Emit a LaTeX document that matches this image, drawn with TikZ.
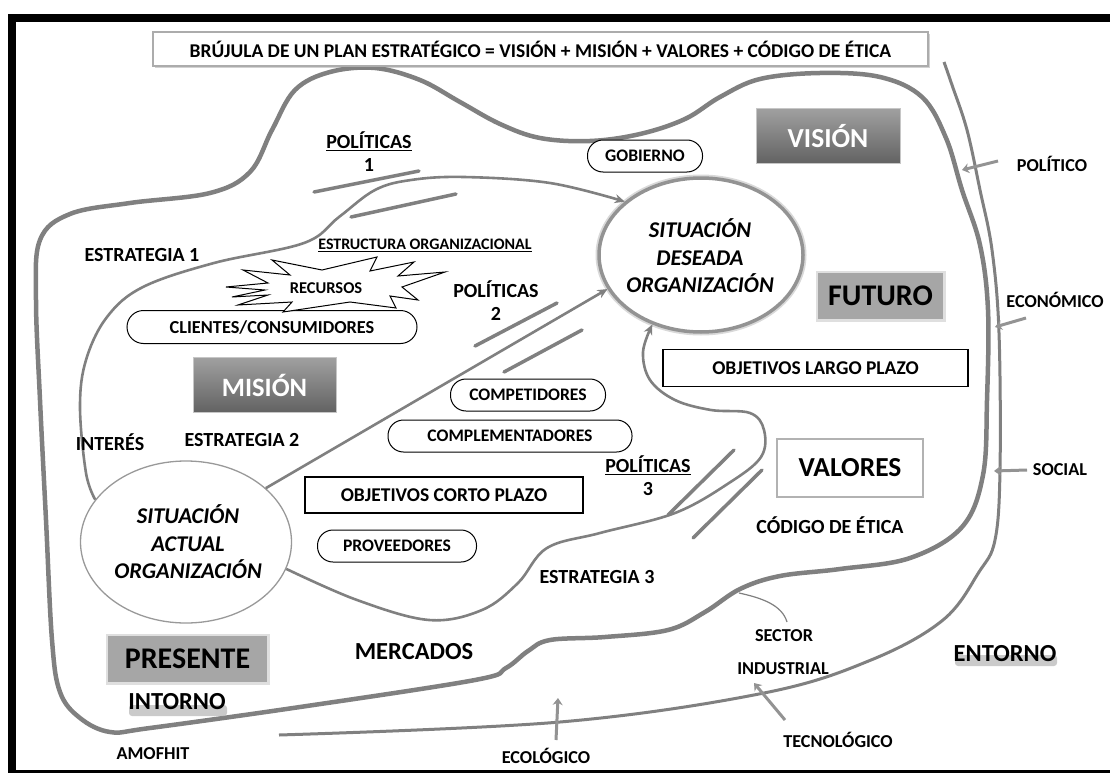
\documentclass[tikz,border=0pt]{standalone}
\usepackage{fontspec}
\setmainfont{Carlito}
\usetikzlibrary{arrows.meta,shapes.geometric,shadows,calc}
\definecolor{lg}{RGB}{128,128,128}
\definecolor{dtop}{RGB}{160,160,160}
\definecolor{dbot}{RGB}{98,98,98}
\definecolor{midg}{RGB}{166,166,166}
\begin{document}
\begin{tikzpicture}[x=1pt,y=-1pt,
  every node/.style={inner sep=0pt},
  lbl/.style={font=\bfseries\fontsize{20}{23}\selectfont, align=center},
  sml/.style={font=\bfseries\fontsize{18.2}{20}\selectfont, align=center},
  bigtxt/.style={font=\bfseries\fontsize{24.5}{28}\selectfont},
  pill/.style={draw=black, line width=1pt, fill=white, rounded corners=15.5pt, minimum height=32pt, font=\bfseries\fontsize{17.6}{20}\selectfont},
  plainbox/.style={draw=black, line width=1.2pt, fill=white, font=\bfseries\fontsize{19.5}{22}\selectfont},
  darkbox/.style={top color=dtop, bottom color=dbot, draw=gray!45, line width=0.8pt, text=white, font=\bfseries\fontsize{27.5}{30}\selectfont},
  midbox/.style={fill=midg, preaction={draw=gray!25, line width=5pt}, font=\bfseries\fontsize{30}{32}\selectfont},
  sittxt/.style={font=\bfseries\itshape\fontsize{22.5}{27.5}\selectfont, align=center},
  bar/.style={draw=lg, line width=3.5pt, line cap=round},
  strat/.style={draw=lg, line width=2.6pt, -{Stealth[length=10pt,width=9pt]}},
  envarr/.style={draw=lg!85, line width=3pt, -{Stealth[length=7pt,width=10pt]}},
  embshadow/.style={fill=gray!55, opacity=0.75, rounded corners=3pt}
]
\useasboundingbox (0,0) rectangle (1110,773);
\fill[white] (0,0) rectangle (1110,773);
\fill[black] (8,14) rectangle (1110,773);
\fill[white] (16,22) rectangle (1110,770);

% outer blob (intorno)
\draw[lg, line width=4.5pt] plot[smooth cycle, tension=0.6] coordinates {
 (36,300) (40,240) (70,214) (130,203) (210,193) (250,172) (272,130) (295,90)
 (330,72) (375,68) (420,80) (460,102) (500,124) (540,138) (590,141) (640,134)
 (685,119) (720,97) (760,79) (820,73) (880,77) (922,97) (946,138) (962,190)
 (980,245) (988,310) (987,400) (983,475) (962,527) (910,558) (840,569) (780,576)
 (740,589) (705,612) (668,630) (605,637) (550,640) (528,651) (506,668) (475,680) (300,707)
 (150,728) (110,732) (80,718) (60,692) (52,640) (46,520) (40,400)};

% entorno line
\draw[lg, line width=3pt] plot[smooth, tension=0.6] coordinates {
 (944,62) (952,85) (967,130) (980,190) (992,250) (999,333) (1000,470) (995,540)
 (979,572) (943,620) (871,660) (764,693) (560,722) (279,735)};

% main ellipses
\node[ellipse, draw=lg!80, line width=1.3pt, minimum width=211pt, minimum height=162pt, fill=white] (act) at (186,542) {};
\node[ellipse, draw=gray!30, line width=7pt, minimum width=204pt, minimum height=154pt] (desh) at (701,255) {};
\node[ellipse, draw=lg!85, line width=3.5pt, minimum width=204pt, minimum height=154pt, fill=white] (des) at (701,255) {};
\node[sittxt] (destxt) at (700,256) {SITUACIÓN\\DESEADA\\ORGANIZACIÓN};
\node[sittxt] (acttxt) at (188,542) {SITUACIÓN\\ACTUAL\\ORGANIZACIÓN};

% strategies
\draw[strat] plot[smooth, tension=0.6] coordinates {(act.155) (86,473) (80,407) (86,360) (107,317) (143,287) (214,263) (304,243) (339,217) (375,190) (411,180) (464,177) (550,183) (des.145)};
\draw[strat] (act.34) -- (des.200);
\draw[strat] plot[smooth, tension=0.6] coordinates {(act.345) (357,600) (429,620) (482,610) (518,583) (547,548) (600,533) (675,513) (729,483) (761,457) (764,430) (750,413) (711,410) (675,400) (650,380) (643,352) (des.235)};

% policy bars
\draw[bar] (314,192) -- (419,171);
\draw[bar] (351,217) -- (456,194);
\draw[bar] (475,346) -- (557,303);
\draw[bar] (504,372) -- (582,330);
\draw[bar] (668,515) -- (734,450);
\draw[bar] (693,538) -- (762,470);

% title
\node[draw=gray!65, line width=1.3pt, fill=white, drop shadow={opacity=0.35, shadow xshift=2pt, shadow yshift=-2.5pt}, minimum width=775pt, minimum height=34pt, font=\bfseries\fontsize{19.5}{22}\selectfont] (title) at (540.5,49) {BRÚJULA DE UN PLAN ESTRATÉGICO = VISIÓN + MISIÓN + VALORES + CÓDIGO DE ÉTICA};

% boxes
\node[darkbox, minimum width=144pt, minimum height=55pt] (vision) at (828,136) {VISIÓN};
\node[darkbox, minimum width=143pt, minimum height=55pt, font=\bfseries\fontsize{26.5}{30}\selectfont] (mision) at (264.5,385) {MISIÓN};
\node[midbox, minimum width=125pt, minimum height=46pt] (futuro) at (880.5,296) {FUTURO};
\node[midbox, minimum width=159pt, minimum height=46pt] (presente) at (187.5,659) {PRESENTE};
\node[draw=gray!60, line width=1.3pt, fill=white, minimum width=146pt, minimum height=58pt, font=\bfseries\fontsize{27.5}{30}\selectfont] (valores) at (850,468) {VALORES};
\node[plainbox, minimum width=305pt, minimum height=37pt] (olp) at (815.5,368) {OBJETIVOS LARGO PLAZO};
\node[plainbox, minimum width=278pt, minimum height=36pt] (ocp) at (444,495) {OBJETIVOS CORTO PLAZO};

% pills
\node[pill, minimum width=115pt] (gob) at (645,156) {GOBIERNO};
\node[pill, minimum width=155pt] (comp) at (528,395) {COMPETIDORES};
\node[pill, minimum width=244pt] (compl) at (510,436) {COMPLEMENTADORES};
\node[pill, minimum width=159pt] (prov) at (397,546) {PROVEEDORES};
\node[pill, minimum width=290pt, minimum height=33pt, rounded corners=16.5pt, font=\bfseries\fontsize{18.3}{20}\selectfont] (clientes) at (272,327) {CLIENTES/CONSUMIDORES};

% recursos star
\filldraw[draw=black, line width=1pt, fill=white] (226,287) -- (268,283) -- (243,270) -- (290,275) -- (272,260) -- (322,270) -- (377,257) -- (370,271) -- (414,262) -- (398,276) -- (445,272) -- (402,287) -- (418,300) -- (390,296) -- (396,308) -- (350,302) -- (283,312) -- (292,302) -- (238,305) -- (268,295) -- (232,297) -- (265,290) -- cycle;
\node[font=\bfseries\fontsize{16.5}{18}\selectfont] (recursos) at (326,288) {RECURSOS};

% labels
\node[lbl] (est1) at (142,255) {ESTRATEGIA 1};
\node[lbl] (pol1) at (369,152) {\underline{POLÍTICAS}\\1};
\node[font=\bfseries\fontsize{16}{18}\selectfont] (estr) at (425,245) {\underline{ESTRUCTURA ORGANIZACIONAL}};
\node[lbl] (pol2) at (496,301) {POLÍTICAS\\2};
\node[lbl] (interes) at (110,442) {INTERÉS};
\node[lbl] (est2) at (242,440) {ESTRATEGIA 2};
\node[lbl] (pol3) at (648,476) {\underline{POLÍTICAS}\\3};
\node[lbl] (codigo) at (830,525) {CÓDIGO DE ÉTICA};
\node[lbl] (est3) at (597,577) {ESTRATEGIA 3};
\node[bigtxt] (mercados) at (414,652) {MERCADOS};
\node[sml] (sector) at (784,636) {SECTOR};
\node[sml] (industrial) at (783,669) {INDUSTRIAL};
\fill[embshadow] (955,655) rectangle (1057,666);
\node[bigtxt] (entorno) at (1005,654) {ENTORNO};
\fill[embshadow] (129,705) rectangle (227,716);
\node[bigtxt] (intorno) at (177,702) {INTORNO};
\node[sml] (amofhit) at (153,754) {AMOFHIT};
\node[sml] (ecologico) at (546,756) {ECOLÓGICO};
\node[sml] (tecnologico) at (838,740) {TECNOLÓGICO};
\node[sml] (politico) at (1052,164) {POLÍTICO};
\node[sml] (economico) at (1055,300) {ECONÓMICO};
\node[sml] (social) at (1060,470) {SOCIAL};

% sector connector
\coordinate (secA) at (739,593);
\coordinate (secB) at (787,622);
\draw[lg, line width=1.2pt] (secA) .. controls (762,598) and (782,605) .. (secB);

% environment arrows
\coordinate (polA) at (998,161); \coordinate (polB) at (962,170);
\coordinate (ecoA) at (1026,318); \coordinate (ecoB) at (995,327);
\coordinate (socA) at (1027,470); \coordinate (socB) at (994,471);
\coordinate (tecA) at (785,720); \coordinate (tecB) at (754,683);
\coordinate (eclA) at (556,740); \coordinate (eclB) at (558,698);
\draw[envarr] (polA) -- (polB);
\draw[envarr] (ecoA) -- (ecoB);
\draw[envarr] (socA) -- (socB);
\draw[envarr] (tecA) -- (tecB);
\draw[envarr] (eclA) -- (eclB);
\end{tikzpicture}
\end{document}
